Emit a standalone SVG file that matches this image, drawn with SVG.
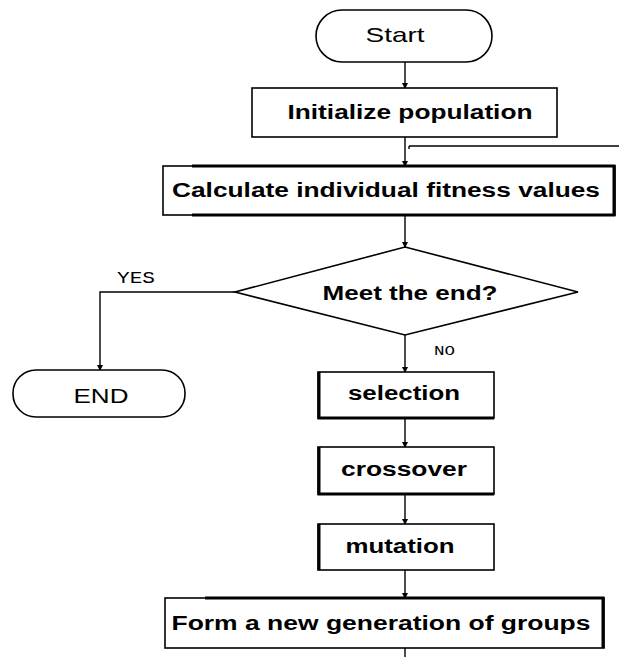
<svg xmlns="http://www.w3.org/2000/svg" width="619" height="657" viewBox="0 0 619 657">
<style>
.box{fill:#fff;stroke:#000;stroke-width:1.6}
.term{fill:#fff;stroke:#000;stroke-width:1.6}
.bt{font-family:"Liberation Sans",Arial,sans-serif;font-weight:bold;font-size:20px;fill:#000}
.rt{font-family:"Liberation Sans",Arial,sans-serif;font-size:21px;fill:#000}
.lb{font-family:"Liberation Mono","DejaVu Sans Mono",monospace;fill:#000}
.ln{fill:none;stroke:#000;stroke-width:1.4}
.thick{stroke:#000;stroke-width:3;fill:none}
</style>
<defs>
<marker id="ah" markerWidth="6" markerHeight="6" refX="5" refY="3" orient="auto" markerUnits="userSpaceOnUse">
<path d="M0,0 L6,3 L0,6 z" fill="#000"/>
</marker>
</defs>
<g id="connectors">
<path class="ln" d="M405,62 V88" marker-end="url(#ah)"/>
<path class="ln" d="M405,137 V166" marker-end="url(#ah)"/>
<path class="ln" d="M409,146 H619"/>
<path class="ln" d="M409,146 V149"/>
<path class="ln" d="M405,215 V247" marker-end="url(#ah)"/>
<path class="ln" d="M235,292 H100 V370" marker-end="url(#ah)"/>
<path class="ln" d="M405,335 V372" marker-end="url(#ah)"/>
<path class="ln" d="M405,418 V447" marker-end="url(#ah)"/>
<path class="ln" d="M405,494 V524" marker-end="url(#ah)"/>
<path class="ln" d="M405,570 V598" marker-end="url(#ah)"/>
<path class="ln" d="M405,648 V657"/>
<text class="lb" x="117" y="283" font-size="16" textLength="38" lengthAdjust="spacingAndGlyphs">YES</text>
<text class="lb" x="434" y="355" font-size="12" textLength="21" lengthAdjust="spacingAndGlyphs">NO</text>
</g>
<g id="start">
<rect class="term" x="316" y="10" width="176" height="52" rx="26" ry="26"/>
<text class="rt" x="395" y="42" text-anchor="middle" textLength="59" lengthAdjust="spacingAndGlyphs">Start</text>
</g>
<g id="init">
<rect class="box" x="252" y="88" width="305" height="49"/>
<text class="bt" x="410" y="119" text-anchor="middle" textLength="245" lengthAdjust="spacingAndGlyphs">Initialize population</text>
</g>
<g id="calc">
<rect class="box" x="163" y="166" width="452" height="49"/>
<path class="thick" d="M192,166 H614 V215 H192"/>
<text class="bt" x="386" y="197" text-anchor="middle" textLength="428" lengthAdjust="spacingAndGlyphs">Calculate individual fitness values</text>
</g>
<g id="decision">
<polygon class="box" points="405,247 578,292 405,335 235,292"/>
<text class="bt" x="410" y="300" text-anchor="middle" textLength="175" lengthAdjust="spacingAndGlyphs">Meet the end?</text>
</g>
<g id="end">
<rect class="term" x="13" y="370" width="172" height="47" rx="23" ry="23"/>
<text class="rt" x="101" y="403" text-anchor="middle" textLength="55" lengthAdjust="spacingAndGlyphs">END</text>
</g>
<g id="selection">
<rect class="box" x="318" y="372" width="176" height="46"/>
<path class="thick" d="M319,372 V418 H494"/>
<text class="bt" x="404" y="400" text-anchor="middle" textLength="112" lengthAdjust="spacingAndGlyphs">selection</text>
</g>
<g id="crossover">
<rect class="box" x="318" y="447" width="176" height="47"/>
<path class="thick" d="M319,447 V494 H494"/>
<text class="bt" x="404" y="476" text-anchor="middle" textLength="126" lengthAdjust="spacingAndGlyphs">crossover</text>
</g>
<g id="mutation">
<rect class="box" x="318" y="524" width="176" height="46"/>
<path class="thick" d="M319,524 V570"/>
<text class="bt" x="400" y="553" text-anchor="middle" textLength="109" lengthAdjust="spacingAndGlyphs">mutation</text>
</g>
<g id="form">
<rect class="box" x="165" y="598" width="439" height="50"/>
<path class="thick" d="M205,598 H603 V648"/>
<text class="bt" x="381" y="630" text-anchor="middle" textLength="419" lengthAdjust="spacingAndGlyphs">Form a new generation of groups</text>
</g>
</svg>
